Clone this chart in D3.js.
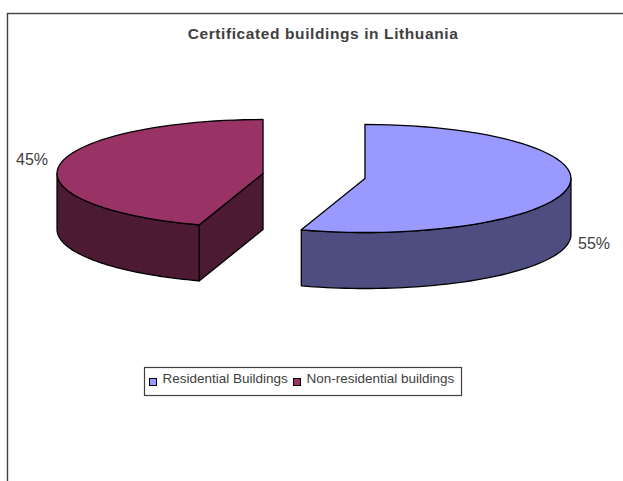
<!DOCTYPE html>
<html>
<head>
<meta charset="utf-8">
<script src="https://cdn.jsdelivr.net/npm/d3@7"></script>
<style>
  html, body { margin: 0; padding: 0; background: #fff; }
  svg { display: block; }
  text { font-family: "Liberation Sans", Arial, sans-serif; fill: #404040; }
</style>
</head>
<body>
<div id="chart"></div>
<script>
// DATA //
let categories = ["Residential Buildings", "Non-residential buildings"];
let shares = [55, 45];
let topColors = ["#9999ff", "#993366"];
let sideColors = ["#4d4d80", "#4d1a33"];

// DIMENSIONS //
let width = 623, height = 481;
let center = {x: 314, y: 176};
let rx = 206, ry = 54, depth = 56;
let explodeX = 51.6, explodeY = 16;

let svg = d3.select("#chart").append("svg")
    .attr("width", width)
    .attr("height", height);

// chart frame, runs off the right and bottom of the picture
svg.append("rect")
    .attr("x", 7.5).attr("y", 13.5)
    .attr("width", width + 20).attr("height", height + 20)
    .attr("fill", "#fff")
    .attr("stroke", "#404040")
    .attr("stroke-width", 1.4);

svg.append("text")
    .attr("x", 323).attr("y", 38.5)
    .attr("text-anchor", "middle")
    .style("font-weight", "bold")
    .style("font-size", "15.5px")
    .style("letter-spacing", "0.6px")
    .text("Certificated buildings in Lithuania");

// PIE //
let slices = d3.pie().sort(null)(shares);
let line = d3.line();

// angle is clockwise from 12 o'clock, same as d3.pie
function project(c, a, r, drop) {
    return [c.x + r * rx * Math.sin(a), c.y - r * ry * Math.cos(a) + drop];
}

function rim(c, a0, a1, drop) {
    let n = 60;
    return d3.range(n + 1).map(i => project(c, a0 + (a1 - a0) * i / n, 1, drop));
}

let sliceG = svg.selectAll("g.slice")
    .data(slices)
    .join("g")
    .attr("class", "slice")
    .attr("stroke", "#000")
    .attr("stroke-width", 1.3)
    .attr("stroke-linejoin", "round");

sliceG.each(function(d) {
    let g = d3.select(this);
    let mid = (d.startAngle + d.endAngle) / 2;
    let c = {
        x: center.x + explodeX * Math.sin(mid),
        y: center.y - explodeY * Math.cos(mid)
    };

    // outer wall, only the part facing us (90deg to 270deg)
    let a0 = Math.max(d.startAngle, Math.PI / 2);
    let a1 = Math.min(d.endAngle, Math.PI * 1.5);
    g.append("path")
        .attr("fill", sideColors[d.index])
        .attr("d", line(rim(c, a0, a1, 0).concat(rim(c, a1, a0, depth))) + "Z");

    // cut face of the left slice is visible, the right one's is hidden behind it
    if (d.startAngle > Math.PI) {
        let p = project(c, d.startAngle, 1, 0), o = project(c, 0, 0, 0);
        g.append("path")
            .attr("fill", sideColors[d.index])
            .attr("d", line([p, o, [o[0], o[1] + depth], [p[0], p[1] + depth]]) + "Z");
    }

    // top surface
    g.append("path")
        .attr("fill", topColors[d.index])
        .attr("d", line([project(c, 0, 0, 0)].concat(rim(c, d.startAngle, d.endAngle, 0))) + "Z");
});

// percent labels
let total = d3.sum(shares);
let labelPos = [{x: 578, y: 249}, {x: 16, y: 165}];
svg.selectAll("text.pct")
    .data(shares)
    .join("text")
    .attr("class", "pct")
    .attr("x", (d, i) => labelPos[i].x)
    .attr("y", (d, i) => labelPos[i].y)
    .style("font-size", "16px")
    .text(d => Math.round(d / total * 100) + "%");

// LEGEND //
svg.append("rect")
    .attr("x", 144.5).attr("y", 367.5)
    .attr("width", 317).attr("height", 28)
    .attr("fill", "#fff")
    .attr("stroke", "#404040")
    .attr("stroke-width", 1.2);

let legendX = [149.5, 293.5];
let legend = svg.selectAll("g.key")
    .data(categories)
    .join("g")
    .attr("class", "key")
    .attr("transform", (d, i) => "translate(" + legendX[i] + ",378.5)");

legend.append("rect")
    .attr("width", 7).attr("height", 7)
    .attr("fill", (d, i) => topColors[i])
    .attr("stroke", "#000")
    .attr("stroke-width", 1);

legend.append("text")
    .attr("x", 13)
    .attr("y", 4.5)
    .style("font-size", "13.5px")
    .text(d => d);
</script>
</body>
</html>
